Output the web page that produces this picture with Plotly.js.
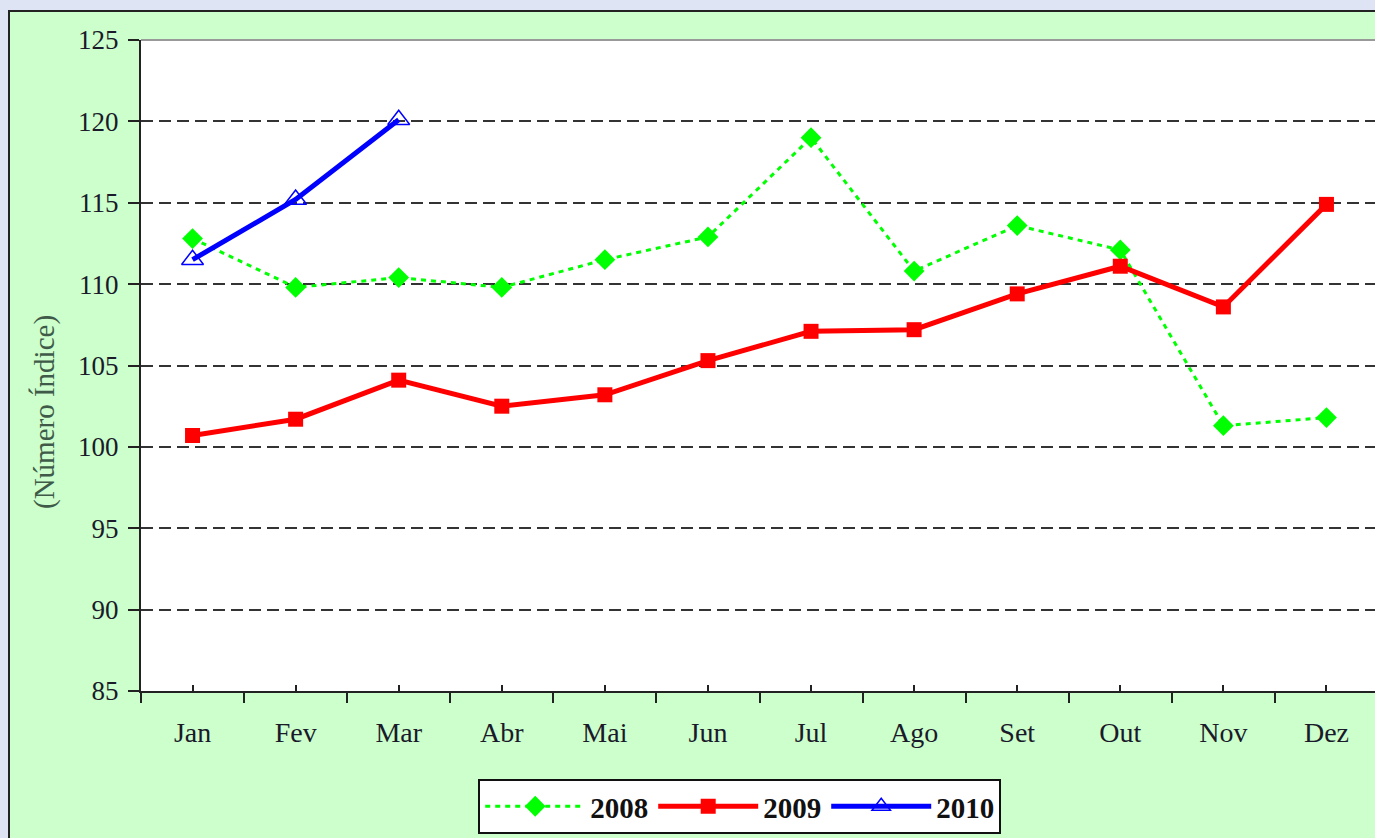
<!DOCTYPE html>
<html>
<head>
<meta charset="utf-8">
<script src="https://cdn.plot.ly/plotly-3.0.1.min.js"></script>
<style>
  html, body { margin: 0; padding: 0; overflow: hidden; background: #dfe4f4; width: 1375px; height: 838px; }
  #chart { position: absolute; left: 8px; top: 10px; border-left: 2px solid #222; border-top: 2px solid #222; width: 1368px; height: 826px; }
</style>
</head>
<body>
<div id="chart"></div>
<script>
const months = ['Jan','Fev','Mar','Abr','Mai','Jun','Jul','Ago','Set','Out','Nov','Dez'];
const y2008 = [112.8, 109.8, 110.4, 109.8, 111.5, 112.9, 119.0, 110.8, 113.6, 112.1, 101.3, 101.8];
const y2009 = [100.7, 101.7, 104.1, 102.5, 103.2, 105.3, 107.1, 107.2, 109.4, 111.1, 108.6, 114.9];
const months2010 = ['Jan','Fev','Mar'];
const y2010 = [111.5, 115.2, 120.1];
const yTicks = [85, 90, 95, 100, 105, 110, 115, 120, 125];

const serif = '"Liberation Serif", "DejaVu Serif", serif';

const traces = [
  { name: '2008', x: months, y: y2008, type: 'scatter', mode: 'lines+markers',
    line: { color: '#00ff00', width: 3, dash: '5px,5px' },
    marker: { symbol: 'diamond', size: 16, color: '#00ff00' } },
  { name: '2009', x: months, y: y2009, type: 'scatter', mode: 'lines+markers',
    line: { color: '#ff0000', width: 5 },
    marker: { symbol: 'square', size: 15, color: '#ff0000' } },
  { name: '2010', x: months2010, y: y2010, type: 'scatter', mode: 'lines+markers',
    xaxis: 'x2',
    line: { color: '#0000ff', width: 5 },
    marker: { symbol: 'triangle-up-open', size: 19, color: '#0000ff', line: { width: 1.5, color: '#0000ff' } } }
];

const layout = {
  width: 1368, height: 826,
  margin: { l: 131, r: 0, t: 28, b: 147 },
  paper_bgcolor: '#ccffcc',
  plot_bgcolor: '#ffffff',
  showlegend: true,
  xaxis: {
    type: 'category', categoryorder: 'array', categoryarray: months,
    range: [-0.5, 11.5],
    showline: true, linecolor: '#222', linewidth: 2,
    ticks: 'outside', tickson: 'boundaries', ticklen: 10, tickwidth: 2, tickcolor: '#222',
    showgrid: false, zeroline: false,
    ticklabelstandoff: 15,
    tickfont: { family: serif, size: 28, color: '#1a1a2a' },
    anchor: 'y'
  },
  xaxis2: {
    type: 'category', categoryorder: 'array', categoryarray: months,
    range: [-0.5, 11.5], overlaying: 'x', anchor: 'y', side: 'bottom',
    ticks: 'inside', ticklen: 6, tickwidth: 2, tickcolor: '#222',
    showticklabels: false, showline: false, showgrid: false, zeroline: false
  },
  yaxis: {
    range: [85, 125], tickvals: yTicks,
    showline: true, linecolor: '#222', linewidth: 2,
    ticks: 'outside', ticklen: 11, tickwidth: 2, tickcolor: '#222',
    showgrid: true, gridcolor: '#333', gridwidth: 2, griddash: '12px,6px',
    zeroline: false,
    ticklabelstandoff: 4,
    tickfont: { family: serif, size: 27, color: '#1a1a2a' }
  },
  legend: {
    orientation: 'h', x: 0.484, xanchor: 'center', y: -0.135, yanchor: 'top',
    bgcolor: '#ffffff', bordercolor: '#111', borderwidth: 2,
    font: { family: serif, size: 29, color: '#111', weight: 'bold' },
    itemwidth: 100, tracegroupgap: 0
  },
  shapes: [
    { type: 'line', xref: 'paper', yref: 'paper', x0: 0, x1: 1, y0: 1, y1: 1, line: { color: '#999', width: 2 } }
  ],
  annotations: [
    { text: '(Número Índice)', textangle: -90, xref: 'paper', yref: 'paper',
      x: -0.0776, y: 0.4286, xanchor: 'center', yanchor: 'middle', showarrow: false,
      font: { family: serif, size: 29, color: '#3f5a48' } }
  ]
};

Plotly.newPlot('chart', traces, layout, { displayModeBar: false, staticPlot: true });
</script>
</body>
</html>
